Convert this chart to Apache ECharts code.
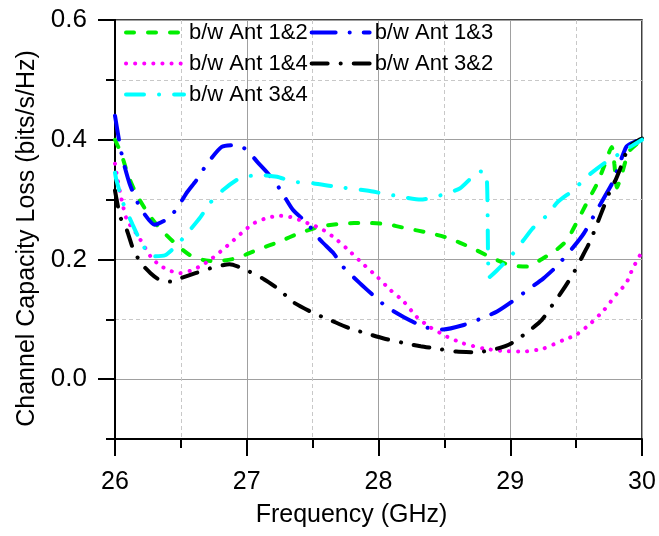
<!DOCTYPE html>
<html>
<head>
<meta charset="utf-8">
<script src="https://cdn.jsdelivr.net/npm/echarts@6/dist/echarts.min.js"></script>
<style>
  html, body { margin: 0; padding: 0; background: #fff; }
  #main { width: 659px; height: 536px; }
</style>
</head>
<body>
<div id="main"></div>
<script>
// values
var names = ['b/w Ant 1&2', 'b/w Ant 1&3', 'b/w Ant 1&4', 'b/w Ant 3&2', 'b/w Ant 3&4'];
var yMajorTicks = [0, 0.2, 0.4, 0.6];

var freq12 = [26, 26.05, 26.1, 26.16, 26.25, 26.34, 26.47, 26.57, 26.67, 26.77, 26.92, 27.08, 27.25, 27.4, 27.56, 27.73, 27.9, 28.06, 28.21, 28.39, 28.54, 28.69, 28.84, 29.0, 29.13, 29.25, 29.35, 29.43, 29.5, 29.58, 29.66, 29.72, 29.77, 29.79, 29.81, 29.85, 29.9, 30];
var loss12 = [0.40, 0.375, 0.34, 0.31, 0.277, 0.252, 0.224, 0.207, 0.199, 0.197, 0.202, 0.216, 0.23, 0.244, 0.255, 0.26, 0.261, 0.259, 0.252, 0.244, 0.235, 0.221, 0.205, 0.19, 0.188, 0.202, 0.216, 0.232, 0.26, 0.294, 0.327, 0.36, 0.388, 0.36, 0.32, 0.345, 0.38, 0.40];

var freq13 = [26, 26.03, 26.06, 26.11, 26.16, 26.21, 26.3, 26.4, 26.47, 26.54, 26.62, 26.7, 26.81, 26.92, 27.0, 27.08, 27.16, 27.25, 27.35, 27.46, 27.56, 27.66, 27.73, 27.86, 27.96, 28.06, 28.19, 28.35, 28.49, 28.64, 28.8, 28.9, 29.01, 29.15, 29.25, 29.35, 29.48, 29.56, 29.66, 29.73, 29.78, 29.83, 29.88, 29.92, 30];
var loss13 = [0.44, 0.40, 0.366, 0.327, 0.30, 0.28, 0.258, 0.268, 0.285, 0.31, 0.333, 0.36, 0.388, 0.391, 0.383, 0.363, 0.344, 0.318, 0.283, 0.26, 0.232, 0.21, 0.188, 0.16, 0.14, 0.121, 0.104, 0.087, 0.083, 0.09, 0.103, 0.113, 0.129, 0.152, 0.168, 0.188, 0.221, 0.244, 0.283, 0.31, 0.33, 0.36, 0.388, 0.394, 0.402];

var freq14 = [26, 26.02, 26.05, 26.09, 26.17, 26.27, 26.34, 26.42, 26.49, 26.57, 26.65, 26.72, 26.8, 26.9, 26.97, 27.05, 27.15, 27.25, 27.33, 27.4, 27.48, 27.56, 27.66, 27.76, 27.88, 27.99, 28.09, 28.19, 28.29, 28.39, 28.52, 28.64, 28.8, 28.95, 29.1, 29.25, 29.4, 29.5, 29.61, 29.71, 29.81, 29.88, 29.93, 30];
var loss14 = [0.36, 0.333, 0.30, 0.266, 0.241, 0.205, 0.19, 0.181, 0.177, 0.181, 0.189, 0.199, 0.213, 0.232, 0.246, 0.26, 0.269, 0.273, 0.271, 0.266, 0.259, 0.252, 0.237, 0.218, 0.193, 0.171, 0.149, 0.13, 0.104, 0.087, 0.071, 0.06, 0.051, 0.047, 0.046, 0.051, 0.065, 0.074, 0.093, 0.115, 0.143, 0.16, 0.185, 0.213];

var freq32 = [26, 26.04, 26.09, 26.14, 26.2, 26.27, 26.33, 26.42, 26.49, 26.61, 26.72, 26.87, 26.97, 27.13, 27.25, 27.35, 27.51, 27.63, 27.78, 27.9, 28.04, 28.18, 28.32, 28.47, 28.59, 28.75, 28.9, 29.01, 29.15, 29.24, 29.33, 29.4, 29.48, 29.54, 29.61, 29.66, 29.71, 29.76, 29.8, 29.83, 29.9, 29.98, 30];
var loss32 = [0.315, 0.271, 0.249, 0.216, 0.193, 0.177, 0.167, 0.163, 0.168, 0.177, 0.185, 0.192, 0.185, 0.167, 0.149, 0.129, 0.11, 0.099, 0.085, 0.077, 0.068, 0.061, 0.055, 0.05, 0.046, 0.045, 0.051, 0.06, 0.082, 0.099, 0.127, 0.149, 0.177, 0.202, 0.232, 0.26, 0.288, 0.316, 0.333, 0.349, 0.388, 0.40, 0.402];

var freq34 = [26, 26.01, 26.06, 26.13, 26.19, 26.28, 26.38, 26.47, 26.58, 26.65, 26.72, 26.82, 26.95, 27.1, 27.23, 27.35, 27.51, 27.66, 27.91, 28.09, 28.19, 28.32, 28.44, 28.62, 28.77, 28.82, 28.84, 28.9, 29.01, 29.1, 29.17, 29.28, 29.36, 29.48, 29.58, 29.71, 29.81, 29.91, 30];
var loss34 = [0.345, 0.333, 0.295, 0.26, 0.232, 0.205, 0.207, 0.224, 0.252, 0.271, 0.294, 0.316, 0.336, 0.341, 0.338, 0.33, 0.327, 0.322, 0.315, 0.308, 0.304, 0.30, 0.305, 0.319, 0.347, 0.344, 0.17, 0.182, 0.207, 0.232, 0.252, 0.274, 0.296, 0.316, 0.338, 0.36, 0.374, 0.388, 0.40];

function pairs(xs, ys) {
    var out = [];
    for (var i = 0; i < xs.length; i++) {
        out.push([xs[i], ys[i]]);
    }
    return out;
}

var font = 'Liberation Sans, Arial, sans-serif';

function line(name, xs, ys, color, dash) {
    return {
        name: name,
        type: 'line',
        symbol: 'none',
        smooth: 0.2,
        data: pairs(xs, ys),
        color: color,
        lineStyle: { color: color, width: 4, type: dash, cap: 'round' }
    };
}

var myChart = echarts.init(document.getElementById('main'));

myChart.setOption({
    animation: false,
    backgroundColor: '#fff',
    grid: {
        left: 115, right: 17, top: 20, bottom: 97,
        show: true, borderColor: '#000', borderWidth: 1.5
    },
    legend: {
        left: 119, top: 13, width: 400,
        orient: 'horizontal',
        itemWidth: 58, itemHeight: 30, itemGap: 2,
        itemStyle: { opacity: 0 },
        lineStyle: { width: 4 },
        textStyle: { fontFamily: font, fontSize: 22, lineHeight: 29, color: '#000' },
        data: names
    },
    xAxis: {
        type: 'value',
        min: 26, max: 30, interval: 1,
        name: 'Frequency (GHz)',
        nameLocation: 'middle',
        nameGap: 64,
        nameTextStyle: { fontFamily: font, fontSize: 25, color: '#000', padding: [0, 54, 0, 0] },
        axisLine: { show: true, onZero: false, lineStyle: { color: '#000', width: 2 } },
        axisTick: { show: true, inside: false, length: 17, lineStyle: { color: '#000', width: 2 } },
        minorTick: { show: true, splitNumber: 2, length: 9, lineStyle: { color: '#000', width: 2 } },
        axisLabel: { fontFamily: font, fontSize: 25, color: '#000', margin: 31 },
        splitLine: { show: true, lineStyle: { color: '#a0a0a0', width: 1 } },
        minorSplitLine: { show: true, lineStyle: { color: '#c8c8c8', width: 1, type: [4, 3] } }
    },
    yAxis: [{
        // minor ticks + dashed lines every 0.1, labels only on even tenths
        type: 'value',
        position: 'left',
        min: -0.1, max: 0.6, interval: 0.1,
        name: 'Channel Capacity Loss (bits/s/Hz)',
        nameLocation: 'middle',
        nameGap: 72,
        nameTextStyle: { fontFamily: font, fontSize: 25, color: '#000', padding: [0, 18, 0, 0] },
        axisLine: { show: true, onZero: false, lineStyle: { color: '#000', width: 2 } },
        axisTick: { show: true, length: 9, lineStyle: { color: '#000', width: 2 } },
        axisLabel: {
            fontFamily: font, fontSize: 26, color: '#000', margin: 28,
            formatter: function (v) { return Math.round(v * 10) % 2 === 0 ? v.toFixed(1) : ''; }
        },
        splitLine: { show: true, lineStyle: { color: '#c8c8c8', width: 1, type: [4, 3] } }
    }, {
        // long ticks on the labelled values
        type: 'value',
        position: 'left',
        min: -0.1, max: 0.6, interval: 0.1,
        axisLine: { show: true, onZero: false, lineStyle: { color: '#000', width: 2 } },
        axisLabel: { show: false },
        axisTick: { show: true, length: 17, customValues: yMajorTicks, lineStyle: { color: '#000', width: 2 } },
        splitLine: { show: false }
    }, {
        // solid grid lines at 0.0 / 0.2 / 0.4 / 0.6 (nice ticks, no interval)
        type: 'value',
        position: 'left',
        min: -0.1, max: 0.6, splitNumber: 4,
        axisLine: { show: true, onZero: false, lineStyle: { color: '#000', width: 2 } },
        axisLabel: { show: false },
        axisTick: { show: false },
        splitLine: { show: true, lineStyle: { color: '#a0a0a0', width: 1 } }
    }],
    series: [
        line(names[0], freq12, loss12, '#00ee00', [8, 14]),
        line(names[1], freq13, loss13, '#0000ff', [24, 14, 0.1, 14]),
        line(names[2], freq14, loss14, '#ff00ff', [0.1, 9]),
        line(names[3], freq32, loss32, '#000000', [16, 13, 0.1, 13]),
        line(names[4], freq34, loss34, '#00ffff', [18, 15, 0.1, 15])
    ]
});
</script>
</body>
</html>
